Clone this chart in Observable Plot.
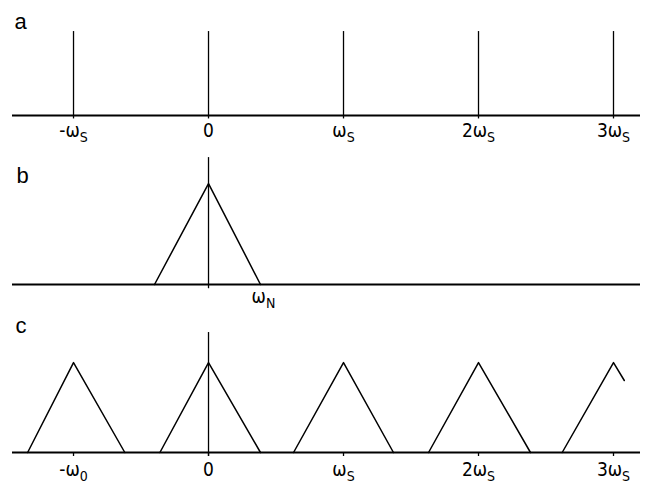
<!DOCTYPE html>
<html>
<head>
<meta charset="utf-8">
<script src="https://cdn.jsdelivr.net/npm/d3@7"></script>
<script src="https://cdn.jsdelivr.net/npm/@observablehq/plot@0.6"></script>
<style>
  html, body { margin: 0; padding: 0; background: #fff; }
  #chart { width: 650px; }
  #chart svg { display: block; }
</style>
</head>
<body>
<div id="chart"></div>
<script>
// ---- data (units: multiples of the sampling frequency ωS) ----
const xDomain = [-1.452, 3.2];
const harmonics = [-1, 0, 1, 2, 3];

// panel a: sampling impulse train
const panelATicks = ["-ω_S", "0", "ω_S", "2ω_S", "3ω_S"];
const impulseHeightA = [0.73, 0.73, 0.73, 0.73, 0.73];

// panel b: band-limited spectrum
const spectrumBx = [-0.4, 0, 0.385];
const spectrumBy = [0, 0.716, 0];
const spikeB = [0.90];
const nyquistX = [0.385];
const nyquistLabel = ["ω_N"];

// panel c: replicated spectra
const replicaX = [-1.34, -1, -0.62, -0.36, 0, 0.385, 0.63, 1, 1.37, 1.63, 2, 2.385, 2.62, 3, 3.08];
const replicaY = [0, 0.647, 0, 0, 0.647, 0, 0, 0.647, 0, 0, 0.647, 0, 0, 0.647, 0.518];
const replicaId = [0, 0, 0, 1, 1, 1, 2, 2, 2, 3, 3, 3, 4, 4, 4];
const spikeC = [0.863];
const panelCTicks = ["-ω_0", "0", "ω_S", "2ω_S", "3ω_S"];

const panelLetters = ["a", "b", "c"];

// ---- helpers ----
const labelFont = "'Liberation Sans Narrow', 'DejaVu Sans Condensed', 'Liberation Sans', sans-serif";
const letterFont = "'Liberation Sans', Arial, sans-serif";

function subscripts(svg) {
  svg.querySelectorAll("text").forEach(t => {
    const s = t.textContent;
    if (s.includes("_")) {
      const [main, sub] = s.split("_");
      t.textContent = main;
      const ts = document.createElementNS("http://www.w3.org/2000/svg", "tspan");
      ts.setAttribute("dy", "5");
      ts.setAttribute("font-size", "14");
      ts.textContent = sub;
      t.appendChild(ts);
    }
  });
  return svg;
}

function base(height, marginBottom, marks) {
  return Plot.plot({
    width: 650,
    height,
    marginTop: 0,
    marginLeft: 12,
    marginRight: 10,
    marginBottom,
    x: {domain: xDomain, axis: null},
    y: {domain: [0, 1], axis: null},
    style: {background: "white", color: "black", overflow: "visible"},
    marks
  });
}

const tickRows = harmonics.map((x) => ({x}));

// panel a
const dataA = harmonics.map((x, i) => ({x, h: impulseHeightA[i], label: panelATicks[i]}));
const svgA = base(143, 28, [
  Plot.ruleY([0], {stroke: "black", strokeWidth: 2}),
  Plot.ruleX(dataA, {x: "x", y1: 0, y2: "h", stroke: "black", strokeWidth: 1.3}),
  Plot.ruleX(dataA, {x: "x", y1: -0.03, y2: 0, stroke: "black", strokeWidth: 1.3}),
  Plot.text(dataA, {x: "x", y: 0, text: "label", dy: 21, lineAnchor: "bottom", textAnchor: "middle",
    fontSize: 19, fontFamily: labelFont, fill: "black"}),
  Plot.text([panelLetters[0]], {frameAnchor: "top-left", text: d => d, dx: 2, dy: 28, lineAnchor: "bottom",
    textAnchor: "start", fontSize: 22, fontFamily: letterFont, fill: "black"})
]);

// panel b
const dataB = spectrumBx.map((x, i) => ({x, y: spectrumBy[i]}));
const svgB = base(170, 29, [
  Plot.ruleY([0], {stroke: "black", strokeWidth: 2}),
  Plot.line(dataB, {x: "x", y: "y", stroke: "black", strokeWidth: 1.5}),
  Plot.ruleX([0], {x: d => d, y1: -0.03, y2: spikeB[0], stroke: "black", strokeWidth: 1.3}),
  Plot.text(nyquistX.map((x, i) => ({x, label: nyquistLabel[i]})), {x: "x", y: 0, text: "label", dx: 3, dy: 18,
    lineAnchor: "bottom", textAnchor: "middle", fontSize: 19, fontFamily: labelFont, fill: "black"}),
  Plot.text([panelLetters[1]], {frameAnchor: "top-left", text: d => d, dx: 4, dy: 39, lineAnchor: "bottom",
    textAnchor: "start", fontSize: 22, fontFamily: letterFont, fill: "black"})
]);

// panel c
const dataC = replicaX.map((x, i) => ({x, y: replicaY[i], id: replicaId[i]}));
const labelsC = harmonics.map((x, i) => ({x, label: panelCTicks[i]}));
const svgC = base(170, 31, [
  Plot.ruleY([0], {stroke: "black", strokeWidth: 2}),
  Plot.line(dataC, {x: "x", y: "y", z: "id", stroke: "black", strokeWidth: 1.5}),
  Plot.ruleX([0], {x: d => d, y1: -0.029, y2: spikeC[0], stroke: "black", strokeWidth: 1.3}),
  Plot.ruleX(tickRows, {x: "x", y1: -0.029, y2: 0, stroke: "black", strokeWidth: 1.3}),
  Plot.text(labelsC, {x: "x", y: 0, text: "label", dy: 23, lineAnchor: "bottom", textAnchor: "middle",
    fontSize: 19, fontFamily: labelFont, fill: "black"}),
  Plot.text([panelLetters[2]], {frameAnchor: "top-left", text: d => d, dx: 3, dy: 19, lineAnchor: "bottom",
    textAnchor: "start", fontSize: 22, fontFamily: letterFont, fill: "black"})
]);

const chart = document.getElementById("chart");
[svgA, svgB, svgC].forEach(s => chart.appendChild(subscripts(s)));
</script>
</body>
</html>
